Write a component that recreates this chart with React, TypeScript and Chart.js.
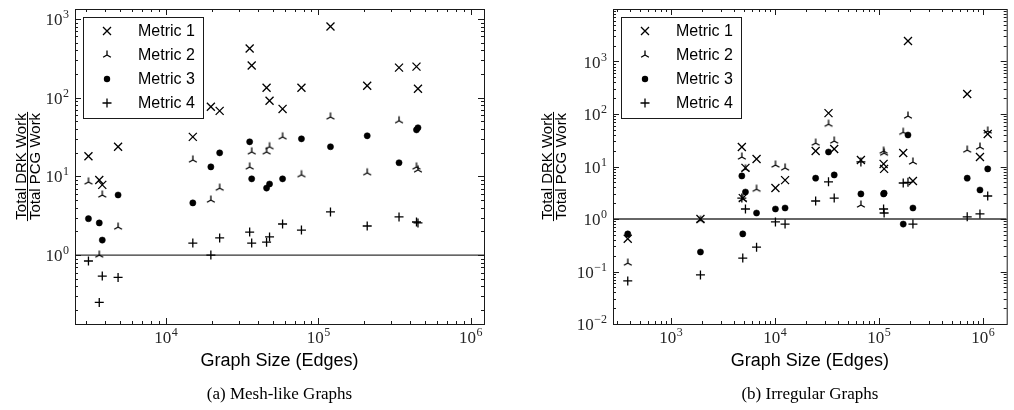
import React, { useEffect, useRef } from "react";
import { Chart, registerables } from "chart.js";

Chart.register(...registerables);

const METRIC_LABELS = ["Metric 1", "Metric 2", "Metric 3", "Metric 4"];
const X_TITLE = "Graph Size (Edges)";
const Y_NUMERATOR = "Total DRK Work";
const Y_DENOMINATOR = "Total PCG Work";
const REF_LEVEL = 1;

// (a) Mesh-like graphs
const MESH_CAPTION = "(a) Mesh-like Graphs";
const MESH_SIZES = [3100, 3650, 3820, 4850, 15000, 19700, 22500, 35400, 36500, 45700, 47800, 58200, 77400, 120000, 209000, 338000, 440000, 450000];
const MESH_M1 = [18, 9.0, 7.8, 23.8, 31.8, 76.8, 68, 421, 256, 134, 91.6, 72, 134, 802, 142, 241, 248, 130];
const MESH_M2 = [8.5, 1.0, 5.8, 2.27, 16.2, 5.0, 7.1, 13.2, 20.5, 20.5, 23.8, 31.8, 10.5, 57, 11.1, 51, 13.2, 12.1];
const MESH_M3 = [2.9, 2.56, 1.55, 5.8, 4.6, 13.2, 19.9, 27.5, 9.3, 7.1, 8.0, 9.3, 30, 23.8, 32.8, 14.9, 39, 41.5];
const MESH_M4 = [0.84, 0.25, 0.54, 0.52, 1.42, 1.0, 1.65, 1.96, 1.42, 1.46, 1.7, 2.48, 2.08, 3.53, 2.34, 3.05, 2.63, 2.56];
const MESH_X_RANGE = [2530, 1.22e6];
const MESH_Y_RANGE = [0.133, 1340];
const MESH_X_TICK_EXPS = [4, 5, 6];
const MESH_Y_TICK_EXPS = [0, 1, 2, 3];

// (b) Irregular graphs
const IRR_CAPTION = "(b) Irregular Graphs";
const IRR_SIZES = [384, 1920, 4800, 4900, 5200, 6650, 10100, 12500, 24600, 32700, 37100, 67000, 110700, 112000, 171000, 190000, 212000, 705000, 935000, 1110000];
const IRR_M1 = [0.42, 1.0, 23.5, 2.5, 9.4, 13.9, 3.9, 5.5, 19.7, 104, 21.5, 13.3, 11.2, 9.0, 18.1, 2460, 5.3, 240, 15.2, 41.6];
const IRR_M2 = [0.145, 0.95, 15.2, 2.4, 9.0, 3.7, 10.7, 9.4, 28, 64, 30.6, 1.85, 19.7, 18, 45, 91.6, 12.2, 20.6, 23.5, 47.5];
const IRR_M3 = [0.52, 0.235, 6.6, 0.52, 3.27, 1.3, 1.55, 1.62, 6.0, 18.9, 6.9, 3.0, 3.0, 3.1, 0.8, 39.8, 1.62, 6.0, 3.57, 9.0];
const IRR_M4 = [0.066, 0.086, 2.5, 0.18, 1.55, 0.29, 0.88, 0.8, 2.2, 5.1, 2.5, 12.2, 1.55, 1.3, 4.85, 5.0, 0.8, 1.1, 1.25, 2.74];
const IRR_X_RANGE = [277, 1.69e6];
const IRR_Y_RANGE = [0.01, 10000];
const IRR_X_TICK_EXPS = [3, 4, 5, 6];
const IRR_Y_TICK_EXPS = [-2, -1, 0, 1, 2, 3];

type Panel = {
  caption: string;
  sizes: number[];
  metrics: number[][];
  xRange: number[];
  yRange: number[];
  xExps: number[];
  yExps: number[];
  left: number;
  width: number;
  pad: { left: number; right: number; top: number; bottom: number };
  barGap: number;
};

const PANELS: Panel[] = [
  {
    caption: MESH_CAPTION,
    sizes: MESH_SIZES,
    metrics: [MESH_M1, MESH_M2, MESH_M3, MESH_M4],
    xRange: MESH_X_RANGE,
    yRange: MESH_Y_RANGE,
    xExps: MESH_X_TICK_EXPS,
    yExps: MESH_Y_TICK_EXPS,
    left: 0,
    width: 507,
    pad: { left: 75, right: 23, top: 9, bottom: 86 },
    barGap: 48,
  },
  {
    caption: IRR_CAPTION,
    sizes: IRR_SIZES,
    metrics: [IRR_M1, IRR_M2, IRR_M3, IRR_M4],
    xRange: IRR_X_RANGE,
    yRange: IRR_Y_RANGE,
    xExps: IRR_X_TICK_EXPS,
    yExps: IRR_Y_TICK_EXPS,
    left: 507,
    width: 507,
    pad: { left: 106, right: 1, top: 9, bottom: 86 },
    barGap: 60,
  },
];

const HEIGHT = 410;
const INK = "#000";

function makeTri(): HTMLCanvasElement {
  const c = document.createElement("canvas");
  c.width = 12;
  c.height = 12;
  const g = c.getContext("2d")!;
  drawTri(g, 6, 6);
  return c;
}

function drawTri(g: CanvasRenderingContext2D, x: number, y: number) {
  const r = 4.5;
  g.save();
  g.strokeStyle = INK;
  g.lineWidth = 1.3;
  g.beginPath();
  g.moveTo(x, y);
  g.lineTo(x, y - r);
  g.moveTo(x, y);
  g.lineTo(x - r * 0.866, y + r * 0.5);
  g.moveTo(x, y);
  g.lineTo(x + r * 0.866, y + r * 0.5);
  g.stroke();
  g.restore();
}

function drawLegendMarker(g: CanvasRenderingContext2D, k: number, x: number, y: number) {
  g.save();
  g.strokeStyle = INK;
  g.fillStyle = INK;
  g.lineWidth = 1.3;
  g.beginPath();
  if (k === 0) {
    const d = 4;
    g.moveTo(x - d, y - d);
    g.lineTo(x + d, y + d);
    g.moveTo(x - d, y + d);
    g.lineTo(x + d, y - d);
    g.stroke();
  } else if (k === 1) {
    drawTri(g, x, y);
  } else if (k === 2) {
    g.arc(x, y, 3.2, 0, Math.PI * 2);
    g.fill();
  } else {
    const d = 4.5;
    g.moveTo(x - d, y);
    g.lineTo(x + d, y);
    g.moveTo(x, y - d);
    g.lineTo(x, y + d);
    g.stroke();
  }
  g.restore();
}

function drawPow(g: CanvasRenderingContext2D, exp: number, x: number, baseline: number, align: "center" | "right") {
  const base = "10";
  const e = exp < 0 ? "\u2212" + Math.abs(exp) : String(exp);
  g.font = '17px "Liberation Serif"';
  const wb = g.measureText(base).width;
  g.font = '12px "Liberation Serif"';
  const we = g.measureText(e).width;
  const total = wb + we + 0.5;
  const x0 = align === "center" ? x - total / 2 : x - total;
  g.textAlign = "left";
  g.textBaseline = "alphabetic";
  g.fillStyle = "#262626";
  g.font = '17px "Liberation Serif"';
  g.fillText(base, x0, baseline);
  g.font = '12px "Liberation Serif"';
  g.fillText(e, x0 + wb + 0.5, baseline - 7);
}

function logTicks(min: number, max: number) {
  const out: { v: number; major: boolean }[] = [];
  const e0 = Math.floor(Math.log10(min));
  const e1 = Math.ceil(Math.log10(max));
  for (let e = e0; e <= e1; e++) {
    for (let k = 1; k <= 9; k++) {
      const v = k * Math.pow(10, e);
      if (v >= min * 0.9999 && v <= max * 1.0001) out.push({ v, major: k === 1 });
    }
  }
  return out;
}

function makeDecor(p: Panel) {
  return {
    id: "decor",
    afterDraw(chart: any) {
      const g: CanvasRenderingContext2D = chart.ctx;
      const a = chart.chartArea;
      const xs = chart.scales.x;
      const ys = chart.scales.y;
      g.save();
      // frame
      g.strokeStyle = "#1a1a1a";
      g.lineWidth = 1;
      g.strokeRect(a.left + 0.5, a.top + 0.5, a.right - a.left, a.bottom - a.top);
      // ticks (inward, all four sides)
      g.beginPath();
      for (const t of logTicks(p.xRange[0], p.xRange[1])) {
        const px = Math.round(xs.getPixelForValue(t.v)) + 0.5;
        const len = t.major ? 6 : 3;
        g.moveTo(px, a.bottom);
        g.lineTo(px, a.bottom - len);
        g.moveTo(px, a.top);
        g.lineTo(px, a.top + len);
      }
      for (const t of logTicks(p.yRange[0], p.yRange[1])) {
        const py = Math.round(ys.getPixelForValue(t.v)) + 0.5;
        const len = t.major ? 6 : 3;
        g.moveTo(a.left, py);
        g.lineTo(a.left + len, py);
        g.moveTo(a.right, py);
        g.lineTo(a.right - len, py);
      }
      g.stroke();
      // tick labels
      for (const e of p.xExps) {
        const px = xs.getPixelForValue(Math.pow(10, e));
        drawPow(g, e, px, a.bottom + 19, "center");
      }
      for (const e of p.yExps) {
        const py = ys.getPixelForValue(Math.pow(10, e));
        drawPow(g, e, a.left - 6, py + 6, "right");
      }
      // x title
      const cx = (a.left + a.right) / 2;
      g.fillStyle = INK;
      g.textAlign = "center";
      g.textBaseline = "alphabetic";
      g.font = '18px "Liberation Sans"';
      g.fillText(X_TITLE, cx, 366);
      // caption
      g.font = '17px "Liberation Serif"';
      g.fillText(p.caption, cx, 399);
      // y label as fraction
      const cy = (a.top + a.bottom) / 2;
      const barX = a.left - p.barGap;
      g.save();
      g.translate(barX, cy);
      g.rotate(-Math.PI / 2);
      g.font = '15px "Liberation Sans"';
      g.textAlign = "center";
      const w = Math.max(g.measureText(Y_NUMERATOR).width, g.measureText(Y_DENOMINATOR).width) + 2;
      g.fillText(Y_NUMERATOR, 0, -1.5);
      g.fillText(Y_DENOMINATOR, 0, 12.5);
      g.fillRect(-w / 2, 0, w, 1);
      g.restore();
      // legend
      const lx = a.left + 8;
      const ly = a.top + 8;
      g.fillStyle = "#fff";
      g.fillRect(lx, ly, 120, 101);
      g.strokeStyle = "#1a1a1a";
      g.lineWidth = 1;
      g.strokeRect(lx + 0.5, ly + 0.5, 120, 101);
      g.font = '16px "Liberation Sans"';
      g.textAlign = "left";
      g.textBaseline = "middle";
      for (let i = 0; i < METRIC_LABELS.length; i++) {
        const ry = a.top + 22 + i * 24;
        drawLegendMarker(g, i, a.left + 32, ry);
        g.fillStyle = INK;
        g.fillText(METRIC_LABELS[i], a.left + 63, ry + 1);
      }
      g.restore();
    },
  };
}

function PanelChart({ p }: { p: Panel }) {
  const ref = useRef<HTMLCanvasElement | null>(null);
  useEffect(() => {
    if (!ref.current) return;
    const tri = makeTri();
    const styles: any[] = ["crossRot", tri, "circle", "cross"];
    const radii = [5.66, 6, 3.1, 4.5];
    const datasets: any[] = p.metrics.map((vals, k) => ({
      label: METRIC_LABELS[k],
      data: p.sizes.map((x, i) => ({ x, y: vals[i] })),
      pointStyle: styles[k],
      pointRadius: radii[k],
      pointHoverRadius: radii[k],
      pointBorderColor: INK,
      pointBackgroundColor: INK,
      pointBorderWidth: k === 2 ? 0.5 : 1.3,
      showLine: false,
      order: 4 - k,
    }));
    datasets.push({
      label: "ref",
      data: [
        { x: p.xRange[0], y: REF_LEVEL },
        { x: p.xRange[1], y: REF_LEVEL },
      ],
      showLine: true,
      borderColor: "#333",
      borderWidth: 1.3,
      pointRadius: 0,
      order: 10,
    });
    const chart = new Chart(ref.current, {
      type: "scatter",
      data: { datasets },
      options: {
        responsive: false,
        animation: false,
        devicePixelRatio: 1,
        layout: { padding: p.pad },
        scales: {
          x: { type: "logarithmic", min: p.xRange[0], max: p.xRange[1], display: false },
          y: { type: "logarithmic", min: p.yRange[0], max: p.yRange[1], display: false },
        },
        plugins: { legend: { display: false }, tooltip: { enabled: false } },
        events: [],
      } as any,
      plugins: [makeDecor(p)],
    });
    return () => chart.destroy();
  }, [p]);
  return (
    <canvas
      ref={ref}
      width={p.width}
      height={HEIGHT}
      style={{ position: "absolute", left: p.left, top: 0, width: p.width, height: HEIGHT }}
    />
  );
}

export default function App() {
  return (
    <div style={{ position: "fixed", left: 0, top: 0, width: 1014, height: HEIGHT, background: "#fff" }}>
      {PANELS.map((p, i) => (
        <PanelChart key={i} p={p} />
      ))}
    </div>
  );
}
